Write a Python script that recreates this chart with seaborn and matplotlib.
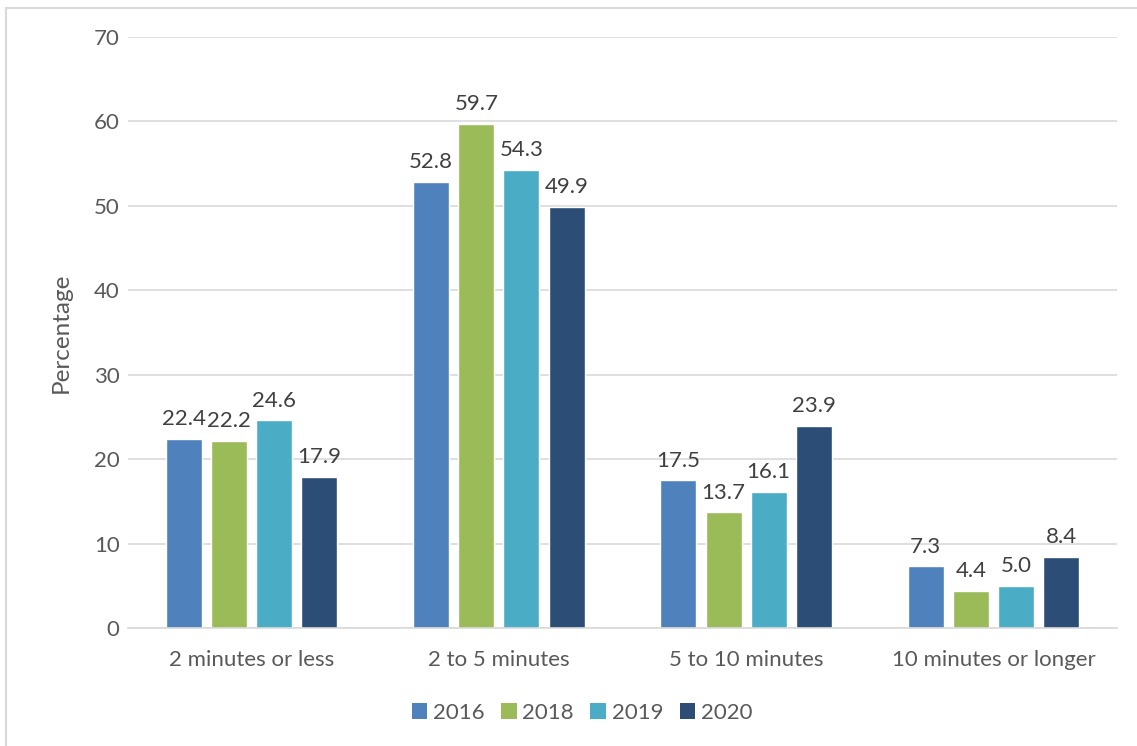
import matplotlib
matplotlib.use("Agg")
import matplotlib.pyplot as plt
import seaborn as sns
import pandas as pd
from matplotlib.patches import Rectangle, Patch

categories = ["2 minutes or less", "2 to 5 minutes", "5 to 10 minutes", "10 minutes or longer"]
years = ["2016", "2018", "2019", "2020"]
v2016 = [22.4, 52.8, 17.5, 7.3]
v2018 = [22.2, 59.7, 13.7, 4.4]
v2019 = [24.6, 54.3, 16.1, 5.0]
v2020 = [17.9, 49.9, 23.9, 8.4]
colors = ["#4f81bd", "#9bbb59", "#4bacc6", "#2c4d75"]

rows = []
for y, vals in zip(years, [v2016, v2018, v2019, v2020]):
    for c, v in zip(categories, vals):
        rows.append({"cat": c, "year": y, "val": v})
df = pd.DataFrame(rows)

sns.set_theme(style="white")
plt.rcParams["font.family"] = ["Lato", "DejaVu Sans"]
txt = "#595959"
fs = 16

fig = plt.figure(figsize=(11.37, 7.46), dpi=100)
ax = fig.add_axes([128/1137, 1-628/746, (1117-128)/1137, (628-37)/746])

sns.barplot(data=df, x="cat", y="val", hue="year", palette=colors,
            width=0.73, gap=0.2, ax=ax, legend=False, saturation=1, errorbar=None)

for cont in ax.containers:
    ax.bar_label(cont, fmt="%.1f", padding=7, fontsize=fs, color="#404040")

ax.set_ylim(0, 70)
ax.set_yticks(range(0, 71, 10))
ax.yaxis.grid(True, color="#d9d9d9", linewidth=1.2)
ax.set_axisbelow(True)
for s in ["top", "right", "left"]:
    ax.spines[s].set_visible(False)
ax.spines["bottom"].set_color("#d9d9d9")
ax.spines["bottom"].set_linewidth(1.2)
ax.tick_params(axis="both", length=0, labelsize=fs, labelcolor=txt)
ax.tick_params(axis="y", pad=6)
ax.tick_params(axis="x", pad=16)
ax.set_xlabel("")
ax.set_ylabel("Percentage", fontsize=17.5, color=txt, labelpad=16)
ax.set_xlim(-0.5, 3.5)

handles = [Patch(facecolor=c, edgecolor="none") for c in colors]
fig.legend(handles, years, loc="center", bbox_to_anchor=(582/1137, 1-713/746),
           ncol=4, frameon=False, fontsize=fs, labelcolor=txt,
           handlelength=0.7, handleheight=0.7, handletextpad=0.25, columnspacing=0.75)

fig.patches.append(Rectangle((6/1137, -0.1), 1.2, 1-8/746+0.1, transform=fig.transFigure,
                             fill=False, edgecolor="#d9d9d9", linewidth=1.5))

fig.savefig("out.png", dpi=100)
